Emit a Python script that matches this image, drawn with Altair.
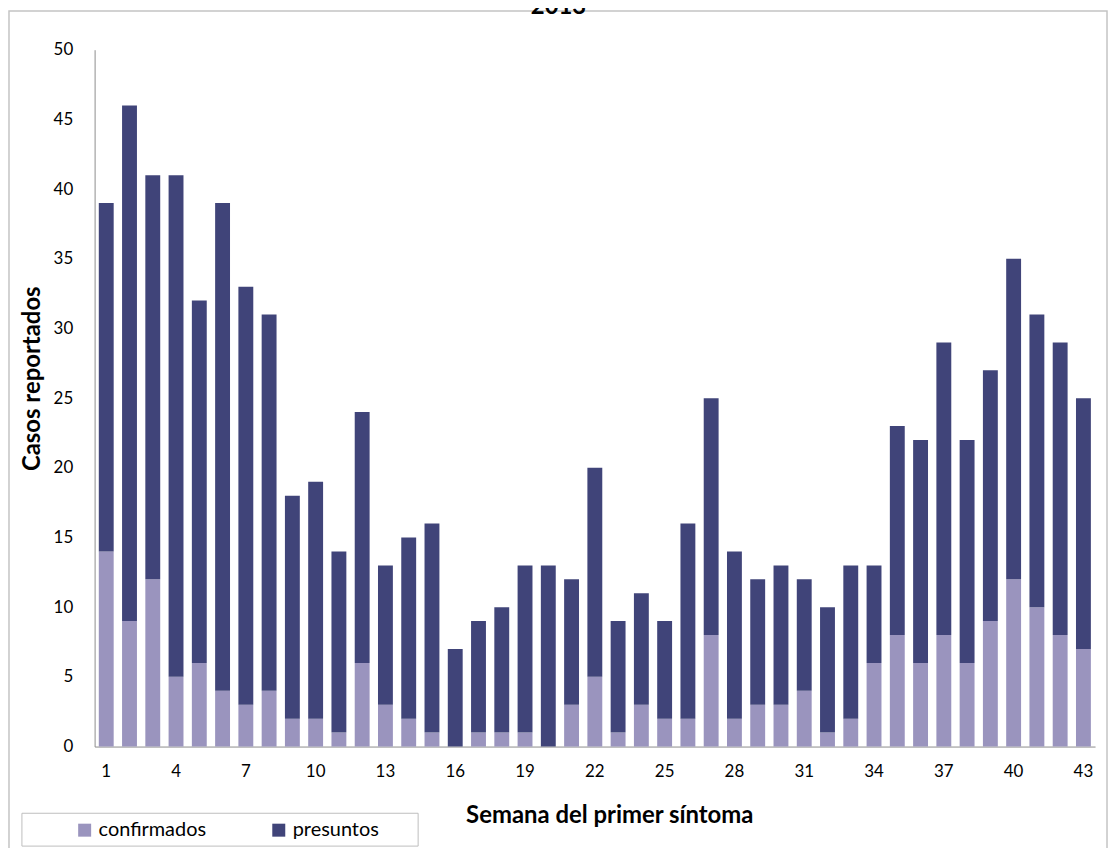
import altair as alt
import pandas as pd

weeks = list(range(1, 44))
confirmados = [14, 9, 12, 5, 6, 4, 3, 4, 2, 2, 1, 6, 3, 2, 1, 0, 1, 1, 1, 0, 3, 5,
               1, 3, 2, 2, 8, 2, 3, 3, 4, 1, 2, 6, 8, 6, 8, 6, 9, 12, 10, 8, 7]
presuntos = [25, 37, 29, 36, 26, 35, 30, 27, 16, 17, 13, 18, 10, 13, 15, 7, 8, 9, 12, 13, 9, 15,
             8, 8, 7, 14, 17, 12, 9, 10, 8, 9, 11, 7, 15, 16, 21, 16, 18, 23, 21, 21, 18]
series_names = ["confirmados", "presuntos"]
series_colors = ["#9A94BE", "#404479"]
x_tick_labels = list(range(1, 44, 3))
y_tick_values = list(range(0, 55, 5))
title_text = ["2013"]

rows = []
for w, c, p in zip(weeks, confirmados, presuntos):
    rows.append({"semana": w, "serie": series_names[0], "casos": c, "ord": 0})
    rows.append({"semana": w, "serie": series_names[1], "casos": p, "ord": 1})
df = pd.DataFrame(rows)

FONT = "Lato"

bars = alt.Chart(df).mark_bar().encode(
    x=alt.X("semana:O",
            scale=alt.Scale(paddingInner=0.36, paddingOuter=0.18),
            axis=alt.Axis(values=x_tick_labels, labelAngle=0, labelPadding=17,
                          title="Semana del primer síntoma", titlePadding=24,
                          titleX=517, titleFontSize=24, titleFontWeight="bold")),
    y=alt.Y("casos:Q", stack="zero",
            scale=alt.Scale(domain=[0, 50], nice=False),
            axis=alt.Axis(values=y_tick_values, labelPadding=22,
                          title="Casos reportados", titlePadding=9, titleY=330,
                          titleFontSize=24, titleFontWeight="bold")),
    color=alt.Color("serie:N",
                    scale=alt.Scale(domain=series_names, range=series_colors),
                    legend=alt.Legend(title=None, orient="none", legendX=-20, legendY=774,
                                      direction="horizontal", symbolType="square",
                                      symbolSize=170, symbolStrokeWidth=0,
                                      labelFontSize=20, labelFont=FONT, labelOffset=4,
                                      columnPadding=62, padding=0)),
    order=alt.Order("ord:Q"),
)

one = pd.DataFrame({"t": title_text})

title_mark = alt.Chart(one).mark_text(
    font=FONT, fontSize=24, fontWeight="bold", baseline="alphabetic", align="center",
    color="black"
).encode(text="t:N", x=alt.value(466), y=alt.value(-36))

legend_box = alt.Chart(one).mark_rect(
    filled=False, stroke="#bdbdbd", strokeWidth=1
).encode(x=alt.value(-73), x2=alt.value(325), y=alt.value(767), y2=alt.value(800))

frame = alt.Chart(one).mark_rect(
    filled=False, stroke="#c4c4c4", strokeWidth=1.5
).encode(x=alt.value(-86), x2=alt.value(1017), y=alt.value(-39), y2=alt.value(900))

chart = alt.layer(frame, legend_box, bars, title_mark).properties(
    width=1005, height=700,
    autosize=alt.AutoSizeParams(type="none"),
    padding={"left": 87, "top": 40, "right": 14, "bottom": 100},
).configure_view(stroke=None).configure_axis(
    grid=False, ticks=False, tickSize=0, domainColor="#8c8c8c",
    labelFont=FONT, labelFontSize=17, labelColor="black",
    titleFont=FONT, titleColor="black",
)

chart.save("out.html", embed_options={"renderer": "svg", "actions": False})
